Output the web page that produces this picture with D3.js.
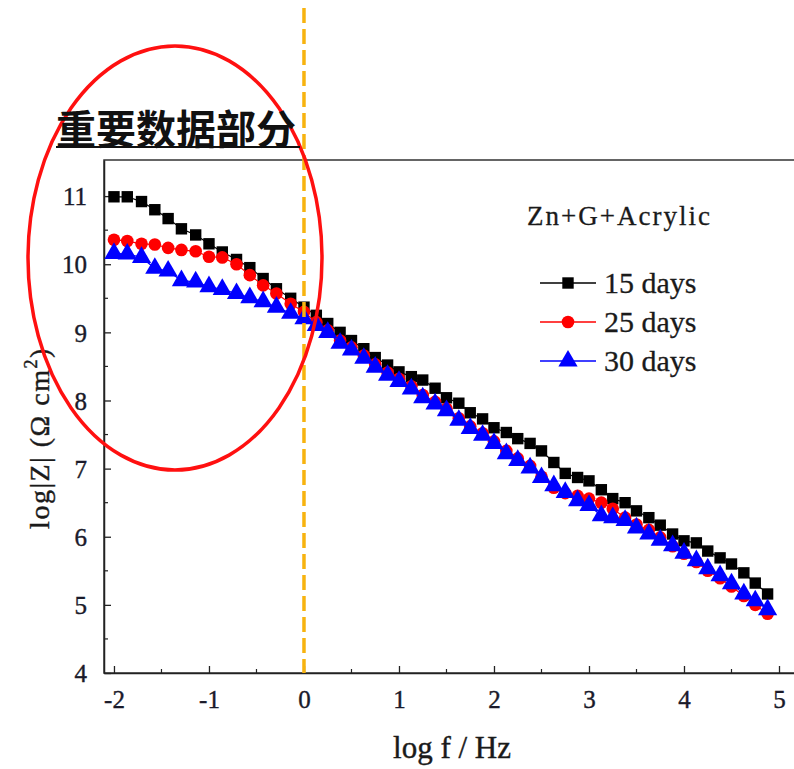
<!DOCTYPE html>
<html>
<head>
<meta charset="utf-8">
<script src="https://cdn.jsdelivr.net/npm/d3@7"></script>
<style>
  body { margin: 0; background: #fff; }
</style>
</head>
<body>
<svg id="chart" width="794" height="769"></svg>
<script>
// log f (Hz) of each measured point
var logF = [-2.00, -1.86, -1.71, -1.57, -1.43, -1.29, -1.14, -1.00, -0.86, -0.71, -0.57, -0.43, -0.29, -0.14, 0.00,
    0.13, 0.25, 0.38, 0.50, 0.63, 0.75, 0.88, 1.00, 1.13, 1.25, 1.38, 1.50, 1.63, 1.75, 1.88, 2.00,
    2.13, 2.25, 2.38, 2.50, 2.63, 2.75, 2.88, 3.00, 3.13, 3.25, 3.38, 3.50, 3.63, 3.75, 3.88, 4.00,
    4.13, 4.25, 4.38, 4.50, 4.63, 4.75, 4.88];

var days15 = [10.99, 10.99, 10.92, 10.80, 10.67, 10.52, 10.43, 10.30, 10.18, 10.07, 9.95, 9.79, 9.64, 9.50, 9.37,
    9.25, 9.13, 9.00, 8.88, 8.76, 8.63, 8.52, 8.42, 8.35, 8.30, 8.18, 8.04, 7.96, 7.82, 7.73, 7.60,
    7.53, 7.44, 7.37, 7.26, 7.09, 6.93, 6.87, 6.82, 6.69, 6.56, 6.50, 6.38, 6.28, 6.17, 6.04, 5.94,
    5.91, 5.79, 5.69, 5.60, 5.47, 5.32, 5.16];

var days25 = [10.36, 10.34, 10.30, 10.29, 10.24, 10.21, 10.19, 10.11, 10.10, 10.00, 9.84, 9.69, 9.57, 9.42, 9.30,
    9.15, 9.03, 8.88, 8.78, 8.66, 8.53, 8.41, 8.32, 8.21, 8.08, 7.98, 7.88, 7.74, 7.62, 7.52, 7.40,
    7.26, 7.15, 7.04, 6.88, 6.72, 6.64, 6.60, 6.56, 6.50, 6.41, 6.28, 6.18, 6.10, 5.99, 5.86, 5.75,
    5.63, 5.50, 5.39, 5.27, 5.13, 5.00, 4.87];

var days30 = [10.16, 10.15, 10.10, 9.94, 9.90, 9.76, 9.74, 9.67, 9.63, 9.57, 9.51, 9.45, 9.37, 9.28, 9.20,
    9.10, 9.00, 8.84, 8.74, 8.62, 8.49, 8.37, 8.28, 8.17, 8.04, 7.95, 7.85, 7.71, 7.59, 7.49, 7.37,
    7.22, 7.12, 7.01, 6.87, 6.75, 6.65, 6.53, 6.46, 6.31, 6.28, 6.24, 6.13, 6.04, 5.95, 5.87, 5.76,
    5.65, 5.53, 5.43, 5.31, 5.16, 5.06, 4.93];

var seriesNames = ["15 days", "25 days", "30 days"];
var xTicks = [-2, -1, 0, 1, 2, 3, 4, 5];
var yTicks = [4, 5, 6, 7, 8, 9, 10, 11];

var svg = d3.select("#chart");
var margin = {left: 104, top: 160, bottom: 673};
var serif = "Liberation Serif, serif";

var x = d3.scaleLinear().domain([-2.105, 5.2]).range([margin.left, 798]);
var y = d3.scaleLinear().domain([4, 11.53]).range([margin.bottom, margin.top]);

// frame
svg.append("rect")
    .attr("x", x.range()[0]).attr("y", margin.top)
    .attr("width", 800 - x.range()[0]).attr("height", margin.bottom - margin.top)
    .attr("fill", "none").attr("stroke", "#333").attr("stroke-width", 1.5);

// axes, ticks pointing in
var fmt = function(d) { return String(d); };
var xAxis = svg.append("g")
    .attr("transform", "translate(0," + margin.bottom + ")")
    .call(d3.axisBottom(x).tickValues(xTicks).tickSizeInner(-7).tickSizeOuter(0).tickPadding(14).tickFormat(fmt));
var yAxis = svg.append("g")
    .attr("transform", "translate(" + margin.left + ",0)")
    .call(d3.axisLeft(y).tickValues(yTicks).tickSizeInner(-7).tickSizeOuter(0).tickPadding(17).tickFormat(fmt));
[xAxis, yAxis].forEach(function(a) {
    a.attr("font-family", serif).attr("font-size", 25);
    a.select(".domain").attr("stroke", "#222").attr("stroke-width", 1.5);
    a.selectAll(".tick line").attr("stroke", "#222").attr("stroke-width", 1.3);
    a.selectAll(".tick text")
        .attr("fill", "#1a1a2a").attr("stroke", "#1a1a2a").attr("stroke-width", 0.4);
});
xAxis.selectAll(".tick text").attr("dy", "0.85em");
yAxis.selectAll(".tick text").attr("dy", "0.35em");

// minor ticks
var minorX = d3.range(-1.5, 5, 1);
svg.append("g").selectAll("line").data(minorX).enter().append("line")
    .attr("x1", x).attr("x2", x)
    .attr("y1", margin.bottom).attr("y2", margin.bottom - 4)
    .attr("stroke", "#222").attr("stroke-width", 1.2);
var minorY = d3.range(4.5, 11.5, 1);
svg.append("g").selectAll("line").data(minorY).enter().append("line")
    .attr("y1", y).attr("y2", y)
    .attr("x1", margin.left).attr("x2", margin.left + 4)
    .attr("stroke", "#222").attr("stroke-width", 1.2);

// axis titles
svg.append("text")
    .attr("x", 452).attr("y", 758)
    .attr("text-anchor", "middle").attr("font-family", serif).attr("font-size", 31).attr("fill", "#1a1a1a")
    .attr("stroke", "#1a1a1a").attr("stroke-width", 0.4)
    .text("log f / Hz");
var ylab = svg.append("text")
    .attr("transform", "translate(49,438) rotate(-90)")
    .attr("text-anchor", "middle").attr("font-family", serif).attr("font-size", 28)
    .attr("letter-spacing", 1.5).attr("fill", "#1a1a1a")
    .attr("stroke", "#1a1a1a").attr("stroke-width", 0.4);
ylab.append("tspan").text("log|Z| (Ω cm");
ylab.append("tspan").attr("font-size", 18).attr("dy", -12).text("2");
ylab.append("tspan").attr("dy", 12).text(")");

// series
var colors = ["#000000", "#ff0000", "#0000ff"];
var symbols = [d3.symbolSquare, d3.symbolCircle, d3.symbolTriangle];
var sizes = [130, 125, 160];
var allSeries = [days15, days25, days30];

allSeries.forEach(function(vals, i) {
    var pts = logF.map(function(f, k) { return [f, vals[k]]; });
    svg.append("path")
        .attr("d", d3.line().x(function(d) { return x(d[0]); }).y(function(d) { return y(d[1]); })(pts))
        .attr("fill", "none").attr("stroke", colors[i]).attr("stroke-width", 1.2);
    svg.append("g").selectAll("path").data(pts).enter().append("path")
        .attr("transform", function(d) { return "translate(" + x(d[0]) + "," + y(d[1]) + ")"; })
        .attr("d", d3.symbol().type(symbols[i]).size(sizes[i]))
        .attr("fill", colors[i]);
});

// legend
svg.append("text").attr("x", 527).attr("y", 225)
    .attr("font-family", serif).attr("font-size", 27).attr("letter-spacing", 2).attr("fill", "#1a1a1a")
    .attr("stroke", "#1a1a1a").attr("stroke-width", 0.3)
    .text("Zn+G+Acrylic");
seriesNames.forEach(function(name, i) {
    var ly = 283 + i * 39;
    svg.append("line").attr("x1", 540).attr("x2", 596).attr("y1", ly).attr("y2", ly)
        .attr("stroke", colors[i]).attr("stroke-width", 1.3);
    svg.append("path")
        .attr("transform", "translate(568," + ly + ")")
        .attr("d", d3.symbol().type(symbols[i]).size(sizes[i]))
        .attr("fill", colors[i]);
    svg.append("text").attr("x", 604).attr("y", ly + 10)
        .attr("font-family", serif).attr("font-size", 30).attr("fill", "#1a1a1a")
        .attr("stroke", "#1a1a1a").attr("stroke-width", 0.3)
        .text(name);
});

// annotations: dashed line at log f = 0, highlight ellipse, label
svg.append("line")
    .attr("x1", x(0)).attr("x2", x(0)).attr("y1", 8).attr("y2", margin.bottom)
    .attr("stroke", "#f7b30f").attr("stroke-width", 3.5).attr("stroke-dasharray", "15,6");
svg.append("ellipse")
    .attr("cx", 175).attr("cy", 258).attr("rx", 147).attr("ry", 212)
    .attr("fill", "none").attr("stroke", "#ff1010").attr("stroke-width", 3.5);
svg.append("text")
    .attr("x", 56).attr("y", 144)
    .attr("font-family", "Noto Sans CJK SC").attr("font-weight", "bold")
    .attr("font-size", 40).attr("fill", "#111")
    .text("重要数据部分");
svg.append("line").attr("x1", 56).attr("x2", 300).attr("y1", 147).attr("y2", 147)
    .attr("stroke", "#111").attr("stroke-width", 2);
</script>
</body>
</html>
